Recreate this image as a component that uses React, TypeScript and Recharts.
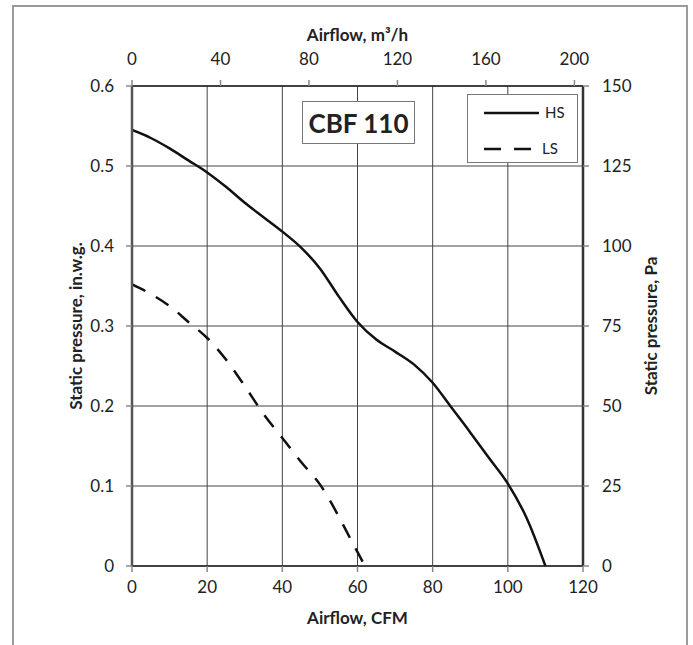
import React from 'react';
import {
  ComposedChart,
  Line,
  XAxis,
  YAxis,
  CartesianGrid,
  Legend,
  Label,
} from 'recharts';

// airflow in CFM (bottom axis)
const hsAirflow = [0, 5, 10, 15, 20, 25, 30, 35, 40, 45, 50, 55, 60, 65, 70, 75, 80, 85, 90, 95, 100, 105, 110];
const hsPressure = [0.545, 0.535, 0.522, 0.507, 0.492, 0.474, 0.454, 0.436, 0.418, 0.398, 0.372, 0.337, 0.305, 0.283, 0.268, 0.252, 0.229, 0.198, 0.167, 0.135, 0.103, 0.06, 0];

const lsAirflow = [0, 5, 10, 15, 20, 25, 30, 35, 40, 45, 50, 55, 58, 62];
const lsPressure = [0.352, 0.34, 0.325, 0.305, 0.285, 0.258, 0.225, 0.19, 0.16, 0.13, 0.102, 0.062, 0.035, 0];

const cfmTicks = [0, 20, 40, 60, 80, 100, 120];
const m3hTicks = [0, 40, 80, 120, 160, 200];
const inwgTicks = [0, 0.1, 0.2, 0.3, 0.4, 0.5, 0.6];
const paTicks = [0, 25, 50, 75, 100, 125, 150];

const CFM_TO_M3H = 1.699;

const hsData = hsAirflow.map((x, i) => ({ cfm: x, hs: hsPressure[i] }));
const lsData = lsAirflow.map((x, i) => ({ cfm: x, ls: lsPressure[i] }));
// carries the m³/h scale so the top axis is drawn
const m3hData = m3hTicks.map((v) => ({ m3h: v }));

const FONT = "Lato, 'Open Sans', sans-serif";
const tickStyle = { fontSize: 17, fill: '#222', fontFamily: FONT };

const titleStyle = {
  fontSize: 17,
  fontWeight: 700,
  fill: '#222',
  fontFamily: FONT,
};

const LegendBox = () => (
  <div
    style={{
      width: 109,
      height: 67,
      border: '1px solid #777',
      background: '#fff',
      position: 'relative',
    }}
  >
    <svg width={109} height={67} style={{ position: 'absolute', left: 0, top: 0 }}>
      <line x1={16} y1={18} x2={71} y2={18} stroke="#111" strokeWidth={2.5} />
      <line x1={16} y1={54} x2={71} y2={54} stroke="#111" strokeWidth={2.5} strokeDasharray="17 13" />
      <text x={77} y={23} style={{ fontSize: 15, fill: '#222', fontFamily: FONT }}>HS</text>
      <text x={74} y={59} style={{ fontSize: 15, fill: '#222', fontFamily: FONT }}>LS</text>
    </svg>
  </div>
);

export default function App() {
  return (
    <div style={{ position: 'absolute', left: 0, top: 0, width: 693, height: 645, background: '#fff', overflow: 'hidden' }}>
      <div
        style={{
          position: 'absolute',
          left: 12,
          top: 5,
          width: 676,
          height: 660,
          border: '2px solid #9a9a9a',
          borderBottom: 'none',
          boxSizing: 'border-box',
        }}
      />
      <ComposedChart
        width={693}
        height={645}
        margin={{ top: 56, right: 50, bottom: 49, left: 72 }}
        style={{ position: 'absolute', left: 0, top: 0 }}
      >
        <CartesianGrid
          xAxisId="bottom"
          yAxisId="left"
          stroke="#444"
          strokeWidth={1}
          horizontalValues={inwgTicks}
          verticalValues={cfmTicks}
        />
        <XAxis
          xAxisId="bottom"
          dataKey="cfm"
          type="number"
          domain={[0, 120]}
          ticks={cfmTicks}
          height={30}
          tick={tickStyle}
          tickSize={6}
          tickMargin={9}
          axisLine={{ stroke: '#222', strokeWidth: 1.5 }}
          tickLine={{ stroke: '#888', strokeWidth: 1.5 }}
          allowDataOverflow
        >
          <Label
            content={({ viewBox }: any) => (
              <text x={viewBox.x + viewBox.width / 2} y={624} textAnchor="middle" style={titleStyle}>
                Airflow, CFM
              </text>
            )}
          />
        </XAxis>
        <XAxis
          xAxisId="top"
          dataKey="m3h"
          orientation="top"
          type="number"
          domain={[0, 120 * CFM_TO_M3H]}
          ticks={m3hTicks}
          height={30}
          tick={tickStyle}
          tickSize={6}
          tickMargin={15}
          axisLine={{ stroke: '#222', strokeWidth: 1.5 }}
          tickLine={{ stroke: '#888', strokeWidth: 1.5 }}
          allowDataOverflow
        >
          <Label
            content={({ viewBox }: any) => (
              <text x={viewBox.x + viewBox.width / 2} y={41} textAnchor="middle" style={titleStyle}>
                Airflow, m³/h
              </text>
            )}
          />
        </XAxis>
        <YAxis
          yAxisId="left"
          type="number"
          domain={[0, 0.6]}
          ticks={inwgTicks}
          width={60}
          tick={tickStyle}
          tickSize={6}
          tickMargin={12}
          axisLine={{ stroke: '#555', strokeWidth: 2.5 }}
          tickLine={{ stroke: '#888', strokeWidth: 1.5 }}
          allowDataOverflow
        >
          <Label
            content={({ viewBox }: any) => {
              const cx = 75;
              const cy = viewBox.y + viewBox.height / 2;
              return (
                <text
                  x={cx}
                  y={cy}
                  transform={`rotate(-90, ${cx}, ${cy})`}
                  textAnchor="middle"
                  dominantBaseline="central"
                  style={titleStyle}
                >
                  Static pressure, in.w.g.
                </text>
              );
            }}
          />
        </YAxis>
        <YAxis
          yAxisId="right"
          orientation="right"
          type="number"
          domain={[0, 150]}
          ticks={paTicks}
          width={60}
          tick={tickStyle}
          tickSize={6}
          tickMargin={13}
          axisLine={{ stroke: '#333', strokeWidth: 2.5 }}
          tickLine={{ stroke: '#888', strokeWidth: 1.5 }}
          allowDataOverflow
        >
          <Label
            content={({ viewBox }: any) => {
              const cx = 650;
              const cy = viewBox.y + viewBox.height / 2;
              return (
                <text
                  x={cx}
                  y={cy}
                  transform={`rotate(-90, ${cx}, ${cy})`}
                  textAnchor="middle"
                  dominantBaseline="central"
                  style={titleStyle}
                >
                  Static pressure, Pa
                </text>
              );
            }}
          />
        </YAxis>
        <Line
          data={m3hData}
          xAxisId="top"
          yAxisId="right"
          dataKey="pa"
          stroke="none"
          dot={false}
          activeDot={false}
          legendType="none"
          isAnimationActive={false}
        />
        <Line
          data={hsData}
          xAxisId="bottom"
          yAxisId="left"
          dataKey="hs"
          name="HS"
          type="monotone"
          stroke="#111"
          strokeWidth={2.5}
          dot={false}
          activeDot={false}
          isAnimationActive={false}
        />
        <Line
          data={lsData}
          xAxisId="bottom"
          yAxisId="left"
          dataKey="ls"
          name="LS"
          type="monotone"
          stroke="#111"
          strokeWidth={2.5}
          strokeDasharray="15 12"
          dot={false}
          activeDot={false}
          isAnimationActive={false}
        />
        <Legend
          layout="horizontal"
          verticalAlign="middle"
          align="center"
          content={() => <LegendBox />}
          wrapperStyle={{ position: 'absolute', left: 467, top: 94, width: 111, height: 69 }}
        />
      </ComposedChart>
      <div
        style={{
          position: 'absolute',
          left: 302,
          top: 101,
          width: 113,
          height: 43,
          border: '1px solid #777',
          background: '#fff',
          boxSizing: 'border-box',
          display: 'flex',
          alignItems: 'center',
          justifyContent: 'center',
          fontFamily: FONT,
          fontWeight: 700,
          fontSize: 26,
          color: '#222',
        }}
      >
        CBF 110
      </div>
    </div>
  );
}
